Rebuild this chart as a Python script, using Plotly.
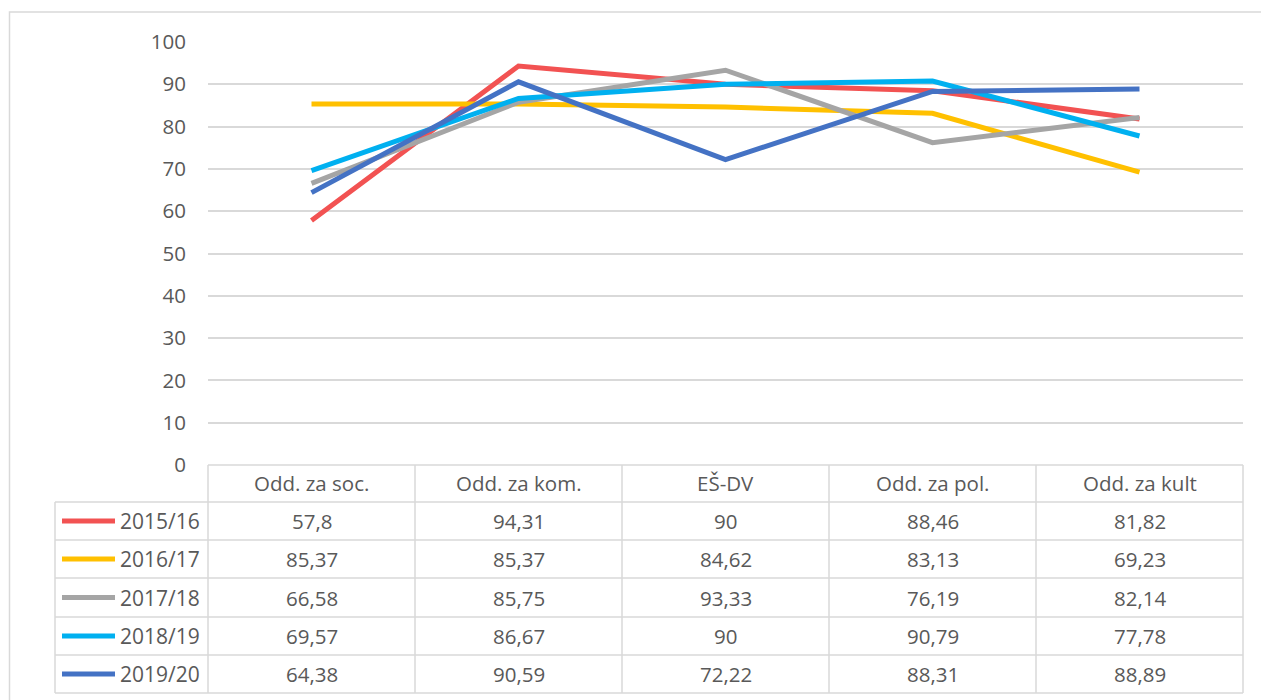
import plotly.graph_objects as go

categories = ["Odd. za soc.", "Odd. za kom.", "EŠ-DV", "Odd. za pol.", "Odd. za kult"]
series_names = ["2015/16", "2016/17", "2017/18", "2018/19", "2019/20"]
v_2015 = [57.8, 94.31, 90, 88.46, 81.82]
v_2016 = [85.37, 85.37, 84.62, 83.13, 69.23]
v_2017 = [66.58, 85.75, 93.33, 76.19, 82.14]
v_2018 = [69.57, 86.67, 90, 90.79, 77.78]
v_2019 = [64.38, 90.59, 72.22, 88.31, 88.89]
series_values = [v_2015, v_2016, v_2017, v_2018, v_2019]
colors = ["#F25252", "#FFC000", "#A5A5A5", "#00B0F0", "#4472C4"]
y_ticks = [0, 10, 20, 30, 40, 50, 60, 70, 80, 90, 100]

W, H = 1261, 700
L, R, T, B = 208, 1243, 42, 465
PW, PH = R - L, B - T
FONT = "Open Sans"
TXT = "#595959"
GRID = "#D9D9D9"
FS = 20.5


def px(x):
    return (x - L) / PW


def py(y):
    return (B - y) / PH


fig = go.Figure()
xs = list(range(len(categories)))
for name, vals, col in zip(series_names, series_values, colors):
    fig.add_trace(go.Scatter(x=xs, y=vals, mode="lines", name=name,
                             line=dict(color=col, width=5),
                             hoverinfo="skip", showlegend=False))

shapes = []
annotations = []

# outer chart border
shapes.append(dict(type="rect", xref="paper", yref="paper",
                   x0=px(9.5), x1=px(1275), y0=py(12), y1=py(720),
                   line=dict(color=GRID, width=1.5), layer="below"))

# table geometry (row boundaries in pixels)
row_lines = [465, 502, 540, 578, 617, 655, 693]
n = len(categories)
for i, yy in enumerate(row_lines):
    x0 = L if i == 0 else 55
    shapes.append(dict(type="line", xref="paper", yref="paper",
                       x0=px(x0), x1=px(R), y0=py(yy), y1=py(yy),
                       line=dict(color=GRID, width=1.5)))
shapes.append(dict(type="line", xref="paper", yref="paper",
                   x0=px(55), x1=px(55), y0=py(502), y1=py(693),
                   line=dict(color=GRID, width=1.5)))
for k in range(n + 1):
    xx = k / n
    shapes.append(dict(type="line", xref="paper", yref="paper",
                       x0=xx, x1=xx, y0=py(465), y1=py(693),
                       line=dict(color=GRID, width=1.5)))

hy = (row_lines[0] + row_lines[1]) / 2
for i, c in enumerate(categories):
    annotations.append(dict(x=i, xref="x", y=py(hy), yref="paper", text=c,
                            showarrow=False, xanchor="center", yanchor="middle",
                            font=dict(family=FONT, size=FS, color=TXT)))


def fmt(v):
    return f"{v:g}".replace(".", ",")


for r, (name, vals, col) in enumerate(zip(series_names, series_values, colors)):
    cy = (row_lines[r + 1] + row_lines[r + 2]) / 2
    shapes.append(dict(type="line", xref="paper", yref="paper",
                       x0=px(62), x1=px(115), y0=py(cy), y1=py(cy),
                       line=dict(color=col, width=5)))
    annotations.append(dict(x=px(118), xref="paper", y=py(cy), yref="paper",
                            text=name, showarrow=False, xanchor="left", yanchor="middle",
                            font=dict(family=FONT, size=21, color=TXT)))
    for i, v in enumerate(vals):
        annotations.append(dict(x=i, xref="x", y=py(cy), yref="paper", text=fmt(v),
                                showarrow=False, xanchor="center", yanchor="middle",
                                font=dict(family=FONT, size=FS, color=TXT)))

fig.update_layout(
    width=W, height=H,
    margin=dict(l=L, r=W - R, t=T, b=H - B, pad=0),
    paper_bgcolor="white", plot_bgcolor="white",
    shapes=shapes, annotations=annotations,
    xaxis=dict(range=[-0.5, n - 0.5], showgrid=False, zeroline=False,
               showticklabels=False, showline=False, fixedrange=True),
    yaxis=dict(range=[0, 100], tickvals=y_ticks, showgrid=True, gridcolor=GRID,
               gridwidth=1.5, zeroline=False, showline=False,
               ticklabelstandoff=21,
               tickfont=dict(family=FONT, size=FS, color=TXT), fixedrange=True),
    showlegend=False,
)

fig.write_html("out.html", config={"displayModeBar": False},
               post_script="document.body.style.margin='0';document.body.style.overflow='hidden';")
